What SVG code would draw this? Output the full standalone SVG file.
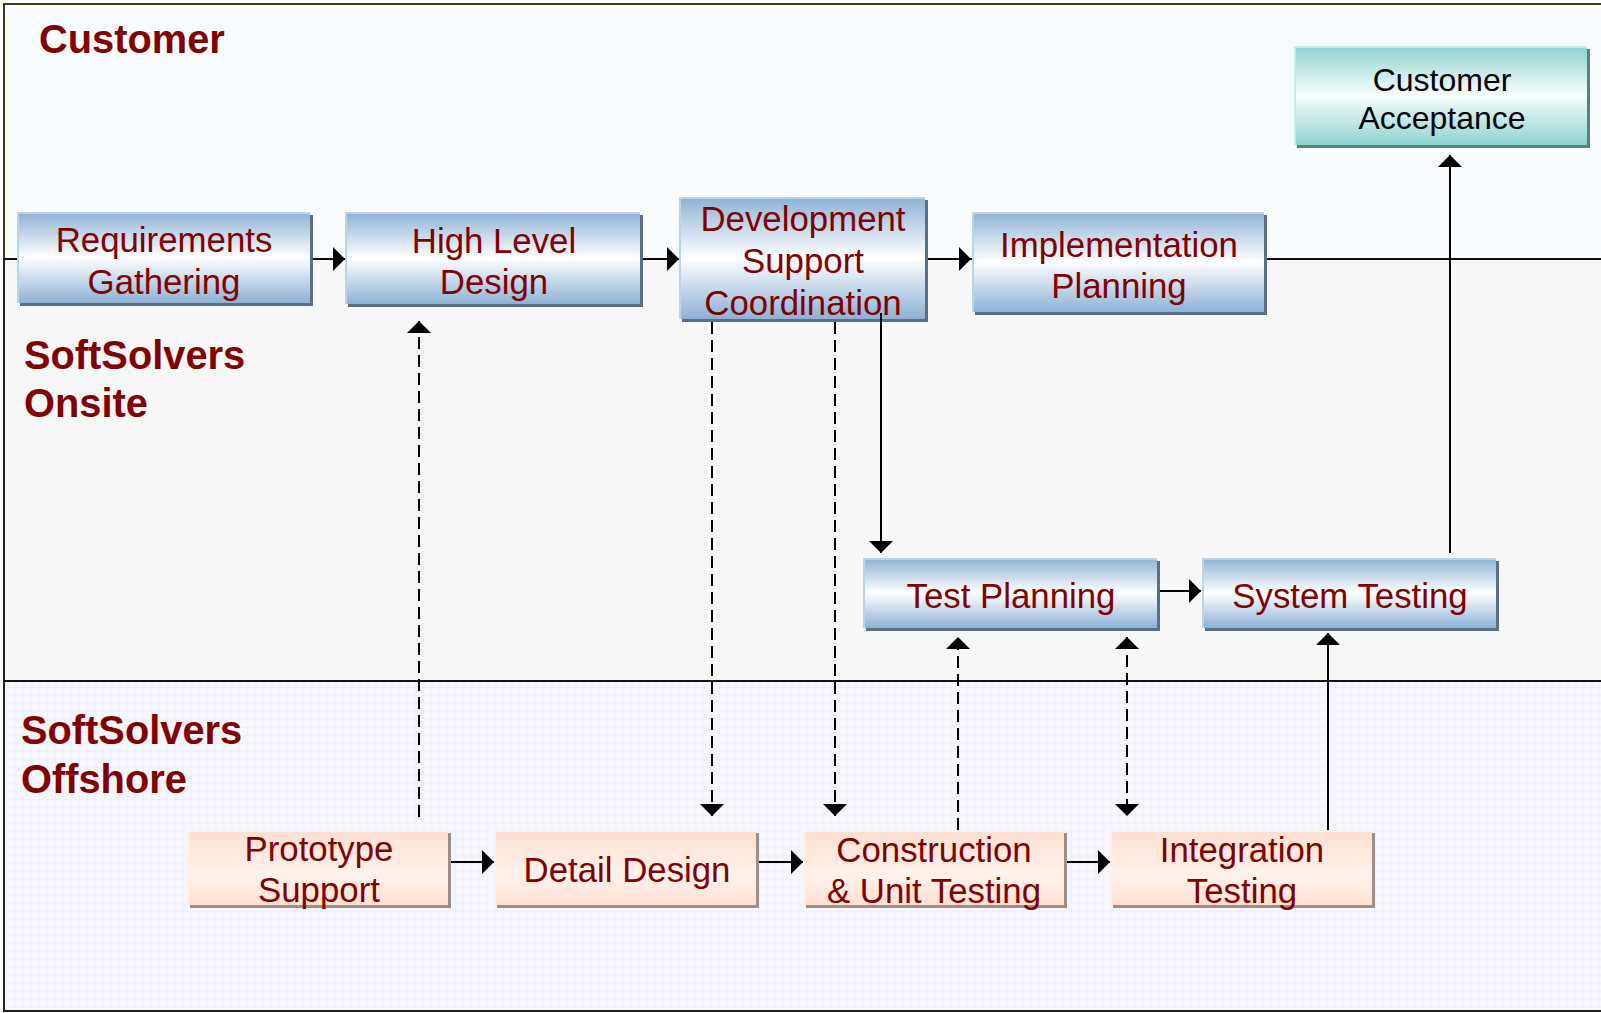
<svg xmlns="http://www.w3.org/2000/svg" width="1601" height="1013" viewBox="0 0 1601 1013">
<style>
.nt{font-family:"Liberation Sans",Arial,sans-serif;font-size:34.8px;fill:#800000;text-anchor:middle}
.ntb{font-family:"Liberation Sans",Arial,sans-serif;font-size:32px;fill:#000;text-anchor:middle}
.lt{font-family:"Liberation Sans",Arial,sans-serif;font-size:39.8px;font-weight:bold;fill:#800000}
.c{stroke:#000;stroke-width:2;fill:none}
.d{stroke-dasharray:12 6}
.sb{fill:#5b6f87}
.st{fill:#5f7f7c}
.sp{fill:#a08f88}
.hb{stroke:#bcd4ea;stroke-width:2;fill:none}
.ht{stroke:#c6ebe8;stroke-width:2;fill:none}
.hp{stroke:#fff0ea;stroke-width:2;fill:none}
</style>
<defs>
<linearGradient id="gb" x1="0" y1="0" x2="0" y2="1">
<stop offset="0" stop-color="#8db1d5"/><stop offset="0.5" stop-color="#ffffff"/><stop offset="1" stop-color="#8db1d5"/>
</linearGradient>
<linearGradient id="gt" x1="0" y1="0" x2="0" y2="1">
<stop offset="0" stop-color="#8ed3cf"/><stop offset="0.5" stop-color="#f8fdfd"/><stop offset="1" stop-color="#8ed3cf"/>
</linearGradient>
<linearGradient id="gp" x1="0" y1="0" x2="0" y2="1">
<stop offset="0" stop-color="#ffdfd0"/><stop offset="0.6" stop-color="#fff2ec"/><stop offset="1" stop-color="#ffe0d2"/>
</linearGradient>
<pattern id="grid" width="8" height="8" patternUnits="userSpaceOnUse">
<rect width="8" height="8" fill="#f5f6fe"/>
<path d="M8,0 V8 M0,8 H8" stroke="#eaecf9" stroke-width="1"/>
</pattern>
<marker id="ah" viewBox="0 0 12 24" refX="12" refY="12" markerWidth="12" markerHeight="24" markerUnits="userSpaceOnUse" orient="auto-start-reverse">
<path d="M0,0 L12,12 L0,24 z" fill="#000"/>
</marker>
</defs>

<g id="lanes">
<rect x="4" y="4" width="1600" height="255" fill="#f8fcfe"/>
<rect x="4" y="259" width="1600" height="422" fill="#f7f7f7"/>
<rect x="4" y="681" width="1600" height="330" fill="url(#grid)"/>
<path d="M4,259 V4 H1601" stroke="#3c3c14" stroke-width="2" fill="none"/>
<path d="M4,259 V1011 H1601" stroke="#222" stroke-width="2" fill="none"/>
<path d="M4,259 H1601 M4,681 H1601" stroke="#111" stroke-width="2" fill="none"/>
<text class="lt" x="39" y="53">Customer</text>
<text class="lt" x="24" y="369">SoftSolvers</text>
<text class="lt" x="24" y="417">Onsite</text>
<text class="lt" x="21" y="744">SoftSolvers</text>
<text class="lt" x="21" y="793">Offshore</text>
</g>

<g id="req">
<rect class="sb" x="20" y="215" width="293" height="91"/>
<rect x="17" y="212" width="293" height="91" fill="url(#gb)"/>
<path class="hb" d="M18,303 V213 H310"/>
<text class="nt" x="164" y="252">Requirements</text>
<text class="nt" x="164" y="294">Gathering</text>
</g>

<g id="hld">
<rect class="sb" x="348" y="215" width="295" height="92"/>
<rect x="345" y="212" width="295" height="92" fill="url(#gb)"/>
<path class="hb" d="M346,304 V213 H640"/>
<text class="nt" x="494" y="253">High Level</text>
<text class="nt" x="494" y="294">Design</text>
</g>

<g id="dev">
<rect class="sb" x="682" y="200" width="246" height="122"/>
<rect x="679" y="197" width="246" height="122" fill="url(#gb)"/>
<path class="hb" d="M680,319 V198 H925"/>
<text class="nt" x="803" y="231">Development</text>
<text class="nt" x="803" y="273">Support</text>
<text class="nt" x="803" y="315">Coordination</text>
</g>

<g id="impl">
<rect class="sb" x="975" y="215" width="292" height="100"/>
<rect x="972" y="212" width="292" height="100" fill="url(#gb)"/>
<path class="hb" d="M973,312 V213 H1264"/>
<text class="nt" x="1119" y="257">Implementation</text>
<text class="nt" x="1119" y="298">Planning</text>
</g>

<g id="custacc">
<rect class="st" x="1297" y="49" width="293" height="99"/>
<rect x="1294" y="46" width="293" height="99" fill="url(#gt)"/>
<path class="ht" d="M1295,145 V47 H1587"/>
<text class="ntb" x="1442" y="91">Customer</text>
<text class="ntb" x="1442" y="129">Acceptance</text>
</g>

<g id="testplan">
<rect class="sb" x="866" y="561" width="294" height="70"/>
<rect x="863" y="558" width="294" height="70" fill="url(#gb)"/>
<path class="hb" d="M864,628 V559 H1157"/>
<text class="nt" x="1011" y="608">Test Planning</text>
</g>

<g id="systest">
<rect class="sb" x="1205" y="561" width="294" height="70"/>
<rect x="1202" y="558" width="294" height="70" fill="url(#gb)"/>
<path class="hb" d="M1203,628 V559 H1496"/>
<text class="nt" x="1350" y="608">System Testing</text>
</g>

<g id="proto">
<rect class="sp" x="190" y="833" width="261" height="75"/>
<rect x="187" y="830" width="261" height="75" fill="url(#gp)"/>
<path class="hp" d="M188,905 V831 H448"/>
<text class="nt" x="319" y="861">Prototype</text>
<text class="nt" x="319" y="902">Support</text>
</g>

<g id="detail">
<rect class="sp" x="497" y="833" width="262" height="75"/>
<rect x="494" y="830" width="262" height="75" fill="url(#gp)"/>
<path class="hp" d="M495,905 V831 H756"/>
<text class="nt" x="627" y="882">Detail Design</text>
</g>

<g id="construct">
<rect class="sp" x="806" y="833" width="261" height="75"/>
<rect x="803" y="830" width="261" height="75" fill="url(#gp)"/>
<path class="hp" d="M804,905 V831 H1064"/>
<text class="nt" x="934" y="862">Construction</text>
<text class="nt" x="934" y="903">&amp; Unit Testing</text>
</g>

<g id="integ">
<rect class="sp" x="1113" y="833" width="262" height="75"/>
<rect x="1110" y="830" width="262" height="75" fill="url(#gp)"/>
<path class="hp" d="M1111,905 V831 H1372"/>
<text class="nt" x="1242" y="862">Integration</text>
<text class="nt" x="1242" y="903">Testing</text>
</g>

<g id="connectors">
<path class="c" d="M313,259 H345" marker-end="url(#ah)"/>
<path class="c" d="M643,259 H679" marker-end="url(#ah)"/>
<path class="c" d="M928,259 H971" marker-end="url(#ah)"/>
<path class="c" d="M1160,591 H1201" marker-end="url(#ah)"/>
<path class="c" d="M451,862 H494" marker-end="url(#ah)"/>
<path class="c" d="M759,862 H803" marker-end="url(#ah)"/>
<path class="c" d="M1067,862 H1110" marker-end="url(#ah)"/>
<path class="c d" d="M419,817 V321" marker-end="url(#ah)"/>
<path class="c d" d="M712,322 V816" marker-end="url(#ah)"/>
<path class="c d" d="M835,322 V816" marker-end="url(#ah)"/>
<path class="c" d="M881,313 V553" marker-end="url(#ah)"/>
<path class="c d" d="M958,830 V637" marker-end="url(#ah)"/>
<path class="c d" d="M1127,637 V816" marker-start="url(#ah)" marker-end="url(#ah)"/>
<path class="c" d="M1328,830 V633" marker-end="url(#ah)"/>
<path class="c" d="M1450,553 V155" marker-end="url(#ah)"/>
</g>
</svg>
